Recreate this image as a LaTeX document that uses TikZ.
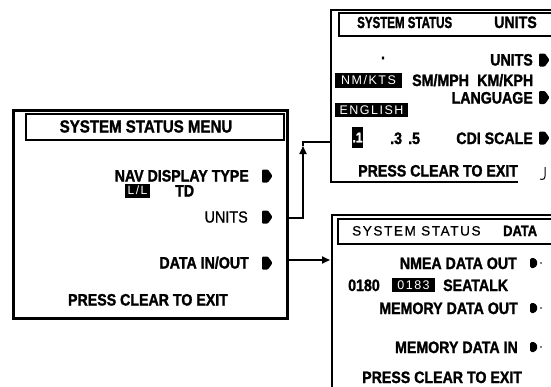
\documentclass[tikz,border=0pt]{standalone}
\usepackage{fontspec}
\setmainfont{Liberation Sans}
\newfontfamily\labfont[FakeStretch=0.86,FakeBold=1.5]{Liberation Sans Bold}
\newfontfamily\medfont[FakeStretch=0.9,FakeBold=1.2]{Liberation Sans}
\newfontfamily\condfont[FakeStretch=0.72,FakeBold=1.5]{Liberation Sans Bold}
\newfontfamily\spacedfont[LetterSpace=12,FakeBold=0.8]{Liberation Sans}
\newfontfamily\hlfont[LetterSpace=12]{Liberation Sans}
\usetikzlibrary{arrows.meta}
\begin{document}
\begin{tikzpicture}[x=1pt,y=-1pt,
  lbl/.style={inner sep=0pt, font=\labfont\fontsize{16.5}{16.5}\selectfont},
  lblr/.style={lbl, anchor=base east},
  lbll/.style={lbl, anchor=base west},
  lblc/.style={lbl, anchor=base},
  hl/.style={fill=black, inner sep=0pt, text=white, font=\hlfont\fontsize{12.5}{12.5}\selectfont},
  frame/.style={line width=2.5pt},
  tbox/.style={line width=1.5pt},
  conn/.style={line width=1.8pt},
  tip/.style={-{Triangle[length=8pt,width=7pt]}},
  tab/.pic={\fill[rounded corners=1pt] (-5,-6.5) -- (1,-6.5) -- (5.5,0) -- (1,6.5) -- (-5,6.5) -- cycle;},
  stab/.pic={\fill[rounded corners=1.5pt] (-4,-5) -- (1,-5) -- (4,0) -- (1,5) -- (-4,5) -- cycle;
             \fill (7,0) circle (0.8pt);},
]
\useasboundingbox (0,0) rectangle (551,386);
\clip (0,0) rectangle (551,386);

% ---------- left box: SYSTEM STATUS MENU ----------
\node[frame, draw, minimum width=274pt, minimum height=208pt, anchor=north west, inner sep=0pt] (menu) at (12,109) {};
\node[tbox, draw, minimum width=258pt, minimum height=26pt, anchor=north west, inner sep=0pt] (menutitle) at (25,113) {};
\node[lblc, font=\labfont\fontsize{17.5}{17.5}\selectfont] (mt) at (146,132.5) {SYSTEM STATUS MENU};
\node[lblr] (nav) at (249,181.5) {NAV DISPLAY TYPE};
\pic at (267,176) {tab};
\node[hl, minimum width=25pt, minimum height=14pt, font=\hlfont\fontsize{12}{12}\selectfont] (ll) at (137.5,190.5) {L/L};
\node[lbll] (td) at (175,196.5) {TD};
\node[lblr, font=\medfont\fontsize{16}{16}\selectfont] (units) at (248,222.5) {UNITS};
\pic at (267,217) {tab};
\node[lblr] (dio) at (249,268.5) {DATA IN/OUT};
\pic at (267,263) {tab};
\node[lblc] (mexit) at (148,305.5) {PRESS CLEAR TO EXIT};

% ---------- units box ----------
\draw[frame] (600,10) -- (331,10) -- (331,182) -- (518,182);
\node[tbox, draw, minimum width=240pt, minimum height=23pt, anchor=north west, inner sep=0pt] (unitstitle) at (338,12) {};
\node[lbll, font=\condfont\fontsize{16}{16}\selectfont] (ut1) at (357,28) {SYSTEM STATUS};
\node[lbll] (ut2) at (494,28) {UNITS};
\node[lbl] (udot) at (383,58) {.};
\node[lblr] (uunits) at (533,65.5) {UNITS};
\pic at (544,60) {tab};
\node[hl, minimum width=67pt, minimum height=15pt] (nmkts) at (368.5,80.5) {NM/KTS};
\node[lbll] (smmph) at (412,86) {SM/MPH};
\node[lbll] (kmkph) at (477,86) {KM/KPH};
\node[lblr] (lang) at (533,103.5) {LANGUAGE};
\pic at (544,97.5) {tab};
\node[hl, minimum width=73pt, minimum height=14pt] (eng) at (371.5,110) {ENGLISH};
\node[hl, minimum width=11pt, minimum height=21pt, font=\labfont\fontsize{14}{14}\selectfont] (p1) at (357.5,137.5) {.1};
\node[lbll] (p3) at (390,144) {.3};
\node[lbll] (p5) at (408,144) {.5};
\node[lblr] (cdi) at (533,144) {CDI SCALE};
\pic at (544,138) {tab};
\node[lbll] (uexit) at (358,176.5) {PRESS CLEAR TO EXIT};
\draw[line width=1pt] (545,167) -- (545,176) .. controls (545,179) and (543,180) .. (540,179);

% ---------- data box ----------
\draw[frame] (600,215) -- (332,215) -- (332,400);
\node[tbox, draw, minimum width=240pt, minimum height=25pt, anchor=north west, inner sep=0pt] (datatitle) at (337,218) {};
\node[anchor=base west, inner sep=0pt, font=\spacedfont\fontsize{13.5}{13.5}\selectfont] (dt1) at (352,235.5) {SYSTEM STATUS};
\node[lbll, font=\labfont\fontsize{15}{15}\selectfont] (dt2) at (503,236) {DATA};
\node[lblr] (nmea) at (517,269) {NMEA DATA OUT};
\pic at (534,263) {stab};
\node[lbll] (o180) at (348,291) {0180};
\node[hl, minimum width=43pt, minimum height=14pt] (o183) at (413.5,285) {0183};
\node[lbll] (seatalk) at (443,291) {SEATALK};
\node[lblr] (mdo) at (518,314) {MEMORY DATA OUT};
\pic at (534,308) {stab};
\node[lblr] (mdi) at (518,353) {MEMORY DATA IN};
\pic at (534,347) {stab};
\node[lbll] (dexit) at (362,383) {PRESS CLEAR TO EXIT};

% ---------- connectors ----------
\coordinate (uout) at (286,218);
\coordinate (ubend) at (303,146);
\coordinate (uin) at (331,142);
\draw[conn, tip] (uout) -| (ubend);
\draw[conn] (ubend) |- (uin);
\coordinate (dout) at (286,260);
\coordinate (din) at (330,260);
\draw[conn, tip] (dout) -- (din);
\end{tikzpicture}
\end{document}
